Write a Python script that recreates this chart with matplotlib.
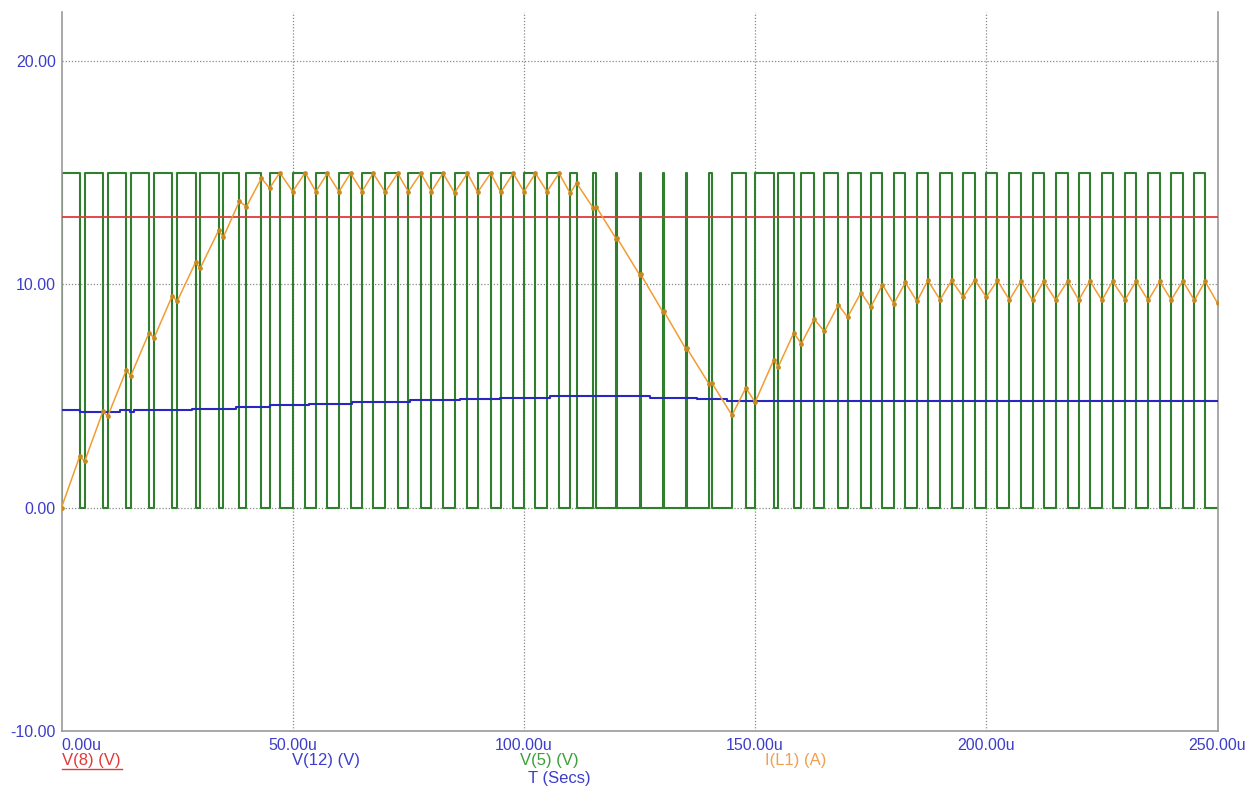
import numpy as np
import matplotlib
matplotlib.use("Agg")
import matplotlib.pyplot as plt
from matplotlib.lines import Line2D

plt.rcParams['font.family'] = ['Liberation Sans', 'DejaVu Sans']

# ---------------- data ----------------
period_us = 5.0
# on-time (high) of the V(5) switching waveform in each 5us period (us)
on_times = [3.94, 3.96, 3.98, 3.96, 3.96, 3.98, 3.98, 3.46, 3.24, 2.2,
            2.7, 2.5, 2.5, 2.4, 2.7, 2.7, 2.5, 2.8, 2.8, 2.7,
            2.5, 2.6, 1.4, 0.7, 0.22, 0.22, 0.22, 0.22, 0.6, 3.0,
            4.05, 3.35, 2.75, 3.0, 2.9, 2.55, 2.5, 2.35, 2.5, 2.5,
            2.4, 2.5, 2.4, 2.6, 2.4, 2.3, 2.4, 2.5, 2.5, 2.3]
v5_high = 15.0
v5_low = 0.0

# I(L1) value at start of each period (valley) and at switch-off (peak)
i_valley = [0.0, 2.07, 4.09, 5.91, 7.59, 9.23, 10.72, 12.11, 13.48, 14.30,
            14.15, 14.15, 14.15, 14.15, 14.12, 14.15, 14.15, 14.10, 14.12, 14.12,
            14.15, 14.15, 14.08, 13.41, 12.02, 10.43, 8.78, 7.11, 5.55, 4.14,
            4.72, 6.30, 7.34, 7.89, 8.53, 8.98, 9.13, 9.23, 9.31, 9.43,
            9.43, 9.30, 9.28, 9.30, 9.30, 9.28, 9.30, 9.28, 9.30, 9.28]
i_peak = [2.30, 4.31, 6.14, 7.84, 9.49, 10.98, 12.41, 13.71, 14.75, 15.0,
          15.0, 14.97, 14.97, 14.97, 14.97, 14.97, 14.97, 14.97, 14.97, 14.97,
          14.97, 14.97, 14.53, 13.45, 12.05, 10.46, 8.81, 7.14, 5.60, 5.36,
          6.62, 7.82, 8.44, 9.08, 9.63, 9.98, 10.08, 10.17, 10.17, 10.20,
          10.17, 10.15, 10.13, 10.15, 10.15, 10.13, 10.15, 10.13, 10.15, 10.13]
i_end = 9.16
t_end = 250.0

# V(12): stepwise values (time us, volts)
v12_t = [0, 3.9, 12.7, 14.8, 15.6, 28.2, 37.7, 45.1, 53.5, 62.8, 75.4, 86.2,
         94.8, 105.6, 127.3, 137.4, 143.9, 250]
v12_v = [4.35, 4.28, 4.35, 4.30, 4.35, 4.43, 4.50, 4.58, 4.65, 4.73, 4.80, 4.86,
         4.91, 4.98, 4.91, 4.85, 4.79, 4.79]

# V(8): constant
v8_t = [0, 250]
v8_v = [13.0, 13.0]

x_ticks = [0, 50, 100, 150, 200, 250]
x_labels = ["0.00u", "50.00u", "100.00u", "150.00u", "200.00u", "250.00u"]
y_ticks = [-10, 0, 10, 20]
y_labels = ["-10.00", "0.00", "10.00", "20.00"]

# ---------------- build traces ----------------
g_t, g_v = [0.0], [v5_low]
o_t, o_v = [], []
for k, on in enumerate(on_times):
    t0 = k * period_us
    g_t += [t0, t0, t0 + on, t0 + on]
    g_v += [v5_low, v5_high, v5_high, v5_low]
    o_t += [t0, t0 + on]
    o_v += [i_valley[k], i_peak[k]]
g_t.append(t_end); g_v.append(v5_low)
o_t.append(t_end); o_v.append(i_end)

# ---------------- figure ----------------
W, H = 1256, 787
fig = plt.figure(figsize=(W / 100, H / 100), dpi=100)
left_px, right_px, top_px, bot_px = 61.5, 1217.5, 12, 731
ax = fig.add_axes([left_px / W, 1 - bot_px / H, (right_px - left_px) / W, (bot_px - top_px) / H])
ax.set_xlim(0, 250)
ax.set_ylim(-10, 22.19)

grid_kw = dict(color='#888888', lw=0.9, ls=(0, (1, 1.5)), zorder=0)
for xv in x_ticks[1:-1]:
    ax.axvline(xv, **grid_kw)
for yv in y_ticks[1:]:
    ax.axhline(yv, **grid_kw)

ax.plot(g_t, g_v, color='#2f7f2f', lw=1.5, zorder=2)
ax.plot(v8_t, v8_v, color='#e03a3a', lw=1.3, zorder=3)
ax.plot(v12_t, v12_v, color='#2828c0', lw=1.5, drawstyle='steps-post', zorder=3)
ax.plot(o_t, o_v, color='#f39c32', lw=1.1, zorder=4,
        marker='o', ms=2.4, mfc='#c88a20', mec='#c88a20')

ax.spines['top'].set_visible(False)
for s in ['left', 'bottom', 'right']:
    ax.spines[s].set_color('#9a9a9a')
    ax.spines[s].set_linewidth(1.2)

ax.set_xticks(x_ticks)
ax.set_xticklabels(x_labels)
ax.set_yticks(y_ticks)
ax.set_yticklabels(y_labels)
ax.tick_params(axis='both', length=0, labelsize=11.5, colors='#3d3dcc')
ax.tick_params(axis='x', pad=5)
ax.tick_params(axis='y', pad=4)
ax.get_xticklabels()[0].set_horizontalalignment('left')

# legend-like labels under the axis
def ftext(xp, yp, s, color, ha='center'):
    return fig.text(xp / W, 1 - yp / H, s, color=color, fontsize=12, ha=ha, va='center')

ftext(62, 760, "V(8) (V)", '#e03a3a', ha='left')
fig.add_artist(Line2D([62 / W, 122 / W], [1 - 769 / H, 1 - 769 / H], color='#e03a3a', lw=1.0))
ftext(326, 760, "V(12) (V)", '#3d3dcc')
ftext(549, 760, "V(5) (V)", '#3aa03a')
ftext(559, 778, "T (Secs)", '#3d3dcc')
ftext(796, 760, "I(L1) (A)", '#f0a050')

fig.savefig("out.png", dpi=100)
